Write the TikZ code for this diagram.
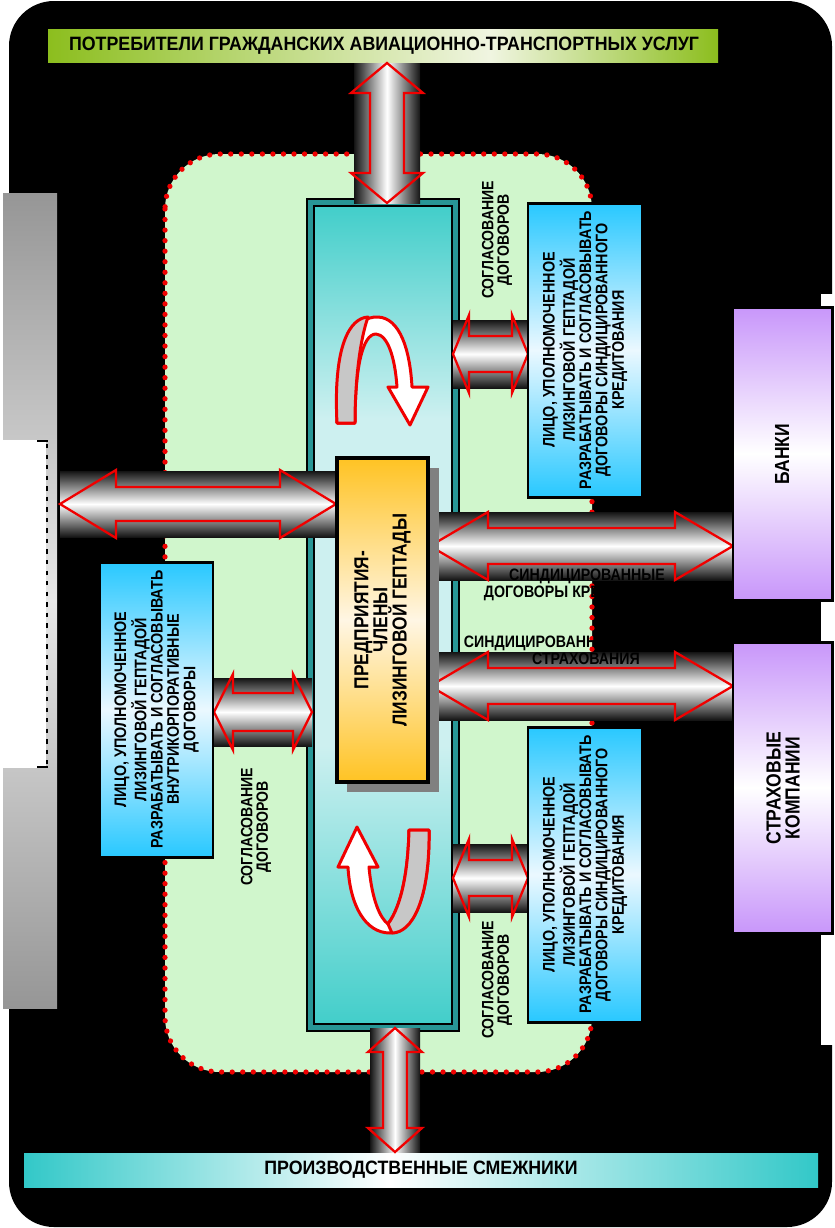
\documentclass[tikz,border=0pt]{standalone}
\usepackage{fontspec}
\setmainfont{Liberation Sans}[FakeStretch=0.86]
\newfontfamily\banfont{Liberation Sans}[FakeStretch=0.92]
\usetikzlibrary{calc}
\definecolor{bgreen}{RGB}{140,190,30}
\definecolor{bgreenL}{RGB}{240,245,225}
\definecolor{bteal}{RGB}{50,200,200}
\definecolor{tealA}{RGB}{66,206,202}
\definecolor{tealB}{RGB}{205,240,240}
\definecolor{tealD}{RGB}{40,150,150}
\definecolor{cyanA}{RGB}{40,200,255}
\definecolor{cyanB}{RGB}{235,248,255}
\definecolor{lavA}{RGB}{200,150,250}
\definecolor{goldA}{RGB}{255,195,35}
\definecolor{goldB}{RGB}{255,246,228}
\definecolor{paleg}{RGB}{208,246,204}
\definecolor{grayA}{RGB}{150,150,150}
\definecolor{grayB}{RGB}{232,232,232}
\definecolor{arrred}{RGB}{240,0,0}
\pgfdeclarehorizontalshading{greenbanner}{100bp}{color(0bp)=(bgreen); color(25bp)=(bgreen); color(58bp)=(bgreenL); color(75bp)=(bgreen); color(100bp)=(bgreen)}
\pgfdeclarehorizontalshading{tealbanner}{100bp}{color(0bp)=(bteal); color(25bp)=(bteal); color(48bp)=(white); color(75bp)=(bteal); color(100bp)=(bteal)}
\pgfdeclareverticalshading{tealbox}{100bp}{color(0bp)=(tealA); color(25bp)=(tealA); color(42bp)=(tealB); color(62bp)=(tealB); color(75bp)=(tealA); color(100bp)=(tealA)}
\newcommand\ubox[6]{\node[#1, inner sep=0pt, outer sep=0pt, minimum width={(#4-#2)*0.02cm}, minimum height={(#5-#3)*0.02cm}] (#6) at ({(#2+#4)/2},{(#3+#5)/2}) {};}
% horizontal double arrow in a pipe: #1 left end, #2 right end, #3 head length, #4 head half-width, #5 shaft half-width, #6 pipe half-height
\newcommand\harrow[6]{%
  \fill[pipeH] ($(#1)+(0,-#6)$) rectangle ($(#2)+(0,#6)$);
  \draw[redarr] (#1) -- ++(#3,-#4) -- ++(0,#4-#5) -- ($(#2)+(-#3,-#5)$) -- ++(0,#5-#4) -- (#2) -- ++(-#3,#4) -- ++(0,#5-#4) -- ($(#1)+(#3,#5)$) -- ++(0,#4-#5) -- cycle;}
% vertical double arrow in a pipe: #1 top end, #2 bottom end
\newcommand\varrow[6]{%
  \fill[pipeV] ($(#1)+(-#6,0)$) rectangle ($(#2)+(#6,0)$);
  \draw[redarr] (#1) -- ++(#4,#3) -- ++(#5-#4,0) -- ($(#2)+(#5,-#3)$) -- ++(#4-#5,0) -- (#2) -- ++(-#4,-#3) -- ++(#4-#5,0) -- ($(#1)+(-#5,#3)$) -- ++(#5-#4,0) -- cycle;}
\tikzset{
  pipeH/.style={top color=black!92, bottom color=black!92, middle color=white},
  pipeV/.style={left color=black!92, right color=black!92, middle color=white},
  redarr/.style={draw=arrred, line width=1.3pt, line join=miter},
  curvarr/.style={draw=arrred, line width=1.7pt, line join=round},
  bluebox/.style={draw=black, line width=1.7pt, top color=cyanA, bottom color=cyanA, middle color=cyanB},
  purplebox/.style={draw=black, line width=1.7pt, top color=lavA, bottom color=lavA, middle color=white},
  boxtxt/.style={rotate=90, align=center, font=\fontsize{9.5}{9.3}\selectfont\bfseries},
  smalltxt/.style={rotate=90, align=center, font=\fontsize{9.3}{8.8}\selectfont\bfseries},
  midtxt/.style={align=center, font=\fontsize{9.4}{9.8}\selectfont\bfseries},
  bigtxt/.style={rotate=90, align=center, font=\fontsize{11.6}{10.8}\selectfont\bfseries},
  bantxt/.style={font=\banfont\fontsize{11}{12}\selectfont\bfseries}
}
\begin{document}
\begin{tikzpicture}[x=0.02cm, y=-0.02cm]
\useasboundingbox (0,0) rectangle (835,1228);
\fill[white] (0,0) rectangle (835,1228);
% black background
\fill[black, rounded corners=0.9cm] (9,1) rectangle (832,1227);
\fill[white] (821,294) rectangle (835,1045);
% left grey block
\ubox{top color=grayA, bottom color=grayA, middle color=grayB}{3}{193}{57}{1008}{lgray}
\ubox{fill=white}{0}{440}{46}{768}{lwhite}
\draw[line width=1.3pt, dash pattern=on 2.5pt off 3.5pt] (lwhite.north east) ++(1,4) coordinate (d1) -- ($(lwhite.south east)+(1,-4)$) coordinate (d2);
\draw[line width=1.3pt] ($(d1)+(-10,-3)$) -- ($(d1)+(1,-3)$);
\draw[line width=1.3pt] ($(d2)+(-10,3)$) -- ($(d2)+(1,3)$);
% banners
\ubox{shading=greenbanner}{48}{29}{718}{62}{topban}
\node[bantxt] (topban-t) at (384,46) {ПОТРЕБИТЕЛИ ГРАЖДАНСКИХ АВИАЦИОННО-ТРАНСПОРТНЫХ УСЛУГ};
\ubox{shading=tealbanner}{24}{1153}{818}{1187}{botban}
\node[bantxt] (botban-t) at (421,1170) {ПРОИЗВОДСТВЕННЫЕ СМЕЖНИКИ};
% green dotted region
\path[fill=paleg, rounded corners=1.1cm] (165,154) rectangle (592,1072);
\draw[arrred, line width=3pt, dash pattern=on 0pt off 6pt, line cap=round, rounded corners=1.1cm] (165,154) rectangle (592,1072);
% central teal column
\ubox{draw=black, line width=0.8pt, fill=tealD}{307}{199}{459}{1031}{tealout}
\ubox{draw=black, line width=1.2pt, shading=tealbox}{314}{206}{452}{1024}{teal}
% curved arrows inside column
\path[curvarr, fill=white] (337,423) .. controls (333,345) and (355,316) .. (378,317) .. controls (400,318) and (410,350) .. (412,387) -- (428,387) -- (410,425) -- (388,387) -- (397,387) .. controls (395,358) and (388,335) .. (376,334) .. controls (362,334) and (355,370) .. (355,423) -- cycle;
\path[curvarr, fill=black!22] (337,423) .. controls (333,345) and (350,318) .. (368,317) .. controls (360,340) and (355,380) .. (355,423) -- cycle;
\path[curvarr, fill=white] (357,827) -- (378,867) -- (369,867) .. controls (372,900) and (380,918) .. (388,924) .. controls (402,905) and (408,870) .. (409,830) -- (429,830) .. controls (430,900) and (412,933) .. (390,933) .. controls (365,933) and (350,905) .. (348,867) -- (338,867) -- cycle;
\path[curvarr, fill=black!22] (409,830) -- (429,830) .. controls (430,900) and (412,933) .. (392,933) -- (388,924) .. controls (402,905) and (408,870) .. (409,830) -- cycle;
% pipe ends
\coordinate (tA) at (387,63);   \coordinate (tB) at (387,203);
\coordinate (bA) at (395,1028); \coordinate (bB) at (395,1152);
\coordinate (lA) at (60,504);   \coordinate (lB) at (336,504);
\coordinate (r1A) at (430,546); \coordinate (r1B) at (733,546);
\coordinate (r2A) at (430,686); \coordinate (r2B) at (733,686);
\coordinate (s1A) at (453,354); \coordinate (s1B) at (528,354);
\coordinate (s2A) at (453,878); \coordinate (s2B) at (528,878);
\coordinate (s3A) at (214,712); \coordinate (s3B) at (312,712);
\varrow{tA}{tB}{30}{36}{17}{33}
\varrow{bA}{bB}{24}{27}{12}{25}
\harrow{lA}{lB}{56}{34}{17}{33}
\harrow{r1A}{r1B}{58}{34}{18}{34}
\harrow{r2A}{r2B}{58}{34}{18}{34}
\harrow{s1A}{s1B}{16}{39}{18}{34}
\harrow{s2A}{s2B}{16}{39}{18}{34}
\harrow{s3A}{s3B}{19}{38}{19}{34}
% central enterprise block
\ubox{fill=black!50}{347}{468}{439}{792}{shadow}
\ubox{draw=black, line width=1.8pt, top color=goldA, bottom color=goldA, middle color=goldB}{337}{458}{428}{782}{core}
\node[bigtxt, font=\fontsize{11.5}{10.9}\selectfont\bfseries] (core-t) at (core.center) {ПРЕДПРИЯТИЯ-\\ЧЛЕНЫ\\ЛИЗИНГОВОЙ ГЕПТАДЫ};
% blue boxes
\ubox{bluebox}{100}{562}{213}{857}{lbox}
\node[boxtxt] (lbox-t) at (lbox.center) {ЛИЦО, УПОЛНОМОЧЕННОЕ\\ЛИЗИНГОВОЙ ГЕПТАДОЙ\\РАЗРАБАТЫВАТЬ И СОГЛАСОВЫВАТЬ\\ВНУТРИКОРПОРАТИВНЫЕ\\ДОГОВОРЫ};
\ubox{bluebox}{528}{203}{642}{497}{rbox1}
\node[boxtxt] (rbox1-t) at (rbox1.center) {ЛИЦО, УПОЛНОМОЧЕННОЕ\\ЛИЗИНГОВОЙ ГЕПТАДОЙ\\РАЗРАБАТЫВАТЬ И СОГЛАСОВЫВАТЬ\\ДОГОВОРЫ СИНДИЦИРОВАННОГО\\КРЕДИТОВАНИЯ};
\ubox{bluebox}{528}{727}{642}{1022}{rbox2}
\node[boxtxt] (rbox2-t) at (rbox2.center) {ЛИЦО, УПОЛНОМОЧЕННОЕ\\ЛИЗИНГОВОЙ ГЕПТАДОЙ\\РАЗРАБАТЫВАТЬ И СОГЛАСОВЫВАТЬ\\ДОГОВОРЫ СИНДИЦИРОВАННОГО\\КРЕДИТОВАНИЯ};
% purple boxes
\ubox{purplebox}{733}{307}{832}{600}{banks}
\node[bigtxt] (banks-t) at (782,454) {БАНКИ};
\ubox{purplebox}{733}{642}{832}{933}{insur}
\node[bigtxt] (insur-t) at (783,788) {СТРАХОВЫЕ\\КОМПАНИИ};
% labels
\node[smalltxt] (agr1) at (497,240) {СОГЛАСОВАНИЕ\\ДОГОВОРОВ};
\node[smalltxt] (agr2) at (497,980) {СОГЛАСОВАНИЕ\\ДОГОВОРОВ};
\node[smalltxt] (agr3) at (256,827) {СОГЛАСОВАНИЕ\\ДОГОВОРОВ};
\node[midtxt] (synd1) at (587,585) {СИНДИЦИРОВАННЫЕ\\ДОГОВОРЫ КРЕДИТОВАНИЯ};
\node[midtxt] (synd2) at (586,650) {СИНДИЦИРОВАННЫЕ ДОГОВОРЫ\\СТРАХОВАНИЯ};
\end{tikzpicture}
\end{document}
